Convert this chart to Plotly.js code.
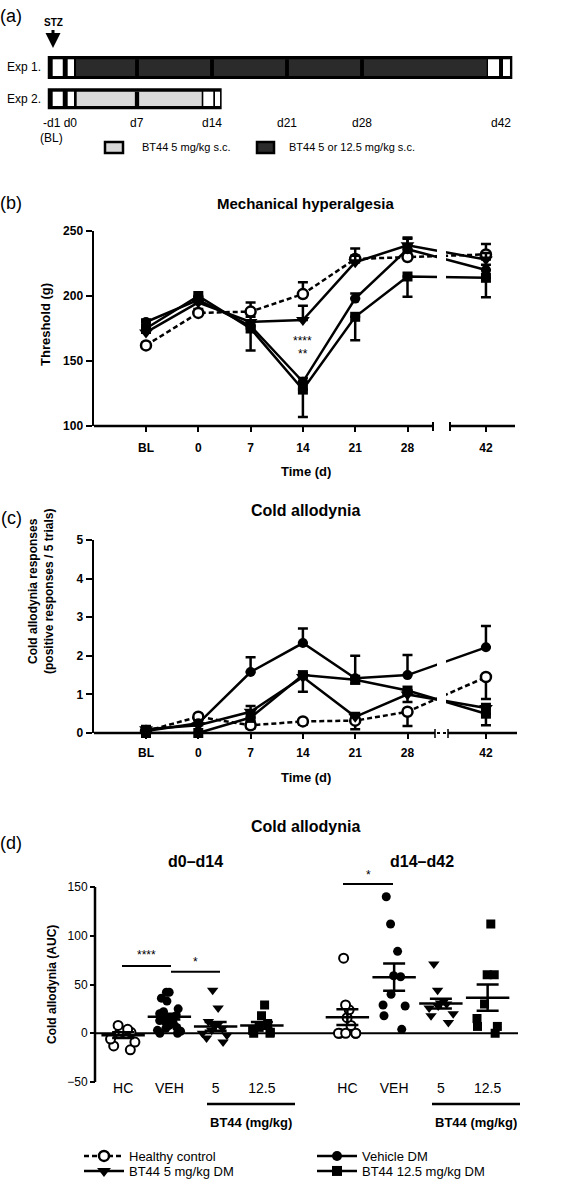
<!DOCTYPE html>
<html><head><meta charset="utf-8">
<script src="https://cdn.plot.ly/plotly-3.0.1.min.js"></script>
<style>html,body{margin:0;padding:0;background:#fff}</style>
</head><body><div id="chart" style="width:566px;height:1199px"></div>
<script>
const W=566,H=1199;
const FONT='Liberation Sans, Arial, Helvetica, sans-serif';

// ---- panel (a) schematic (days) ----
const weekDays=[7,14,21,28];
const exp1WhiteCells=[[-0.87,0.07],[0.53,1.12],[39.76,40.79],[41.16,41.81]];
const exp1DoseCells=[[1.31,39.64]];
const exp2WhiteCells=[[-0.87,0.07],[0.53,1.12],[13.19,14.12],[14.28,14.75]];
const exp2DoseCells=[[1.37,13.04]];
const exp2Weeks=[7];
const schematicLabels=['-d1 d0','d7','d14','d21','d28','d42'];
const schematicLabelDays=[-0.2,7,14,21,28,41];

// ---- panels (b),(c) ----
const timeLabels=['BL','0','7','14','21','28','42'];
const seriesNames=['Healthy control','Vehicle DM','BT44 5 mg/kg DM','BT44 12.5 mg/kg DM'];

// (b) mechanical threshold (g), one-sided SEM
const mechHC=[162,187,188,201.5,228.5,230,232];
const mechHCErr=[2,3,7,9,8,4,8];
const mechVEH=[180,197,177,134,198,236,220];
const mechVEHErr=[2,2,4,3,4,8,4];
const mechBT5=[172,195,180,181.5,226,239,228];
const mechBT5Err=[2,3,4,11,5,6,5];
const mechBT125=[175,200,175,128,184,215,214];
const mechBT125Err=[3,3,17,21,18,15.5,15];

// (c) cold allodynia responses
const coldHC=[0.05,0.42,0.2,0.3,0.32,0.55,1.45];
const coldHCErr=[0.05,0.08,0.08,0.08,0.22,0.37,0.57];
const coldVEH=[0.05,0.25,1.58,2.33,1.42,1.5,2.22];
const coldVEHErr=[0.08,0.08,0.38,0.38,0.58,0.52,0.55];
const coldBT5=[0.1,0.2,0.55,1.45,0.42,1.0,0.65];
const coldBT5Err=[0.08,0.05,0.15,0.1,0.1,0.1,0.1];
const coldBT125=[0.0,0.0,0.4,1.5,1.38,1.1,0.5];
const coldBT125Err=[0,0,0.1,0.43,0.1,0.3,0.3];

// (d) AUC
const aucCats=['HC','VEH','5','12.5'];
const aucEarlyHC=[8,4,2,1,0,-6,-9,-13,-17];
const aucEarlyVEH=[42,42,36,33,25,22,20,18,17,15,13,12,10,8,6,5,3,2,0,0];
const aucEarlyBT5=[44,26,12,10,10,8,5,3,0,-2,-5,-9];
const aucEarlyBT125=[29,18,10,6,3,1,0,0];
const aucLateHC=[77,29,24,16,8,0,0,0,0,0];
const aucLateVEH=[140,112,84,59,58,40,29,28,18,4];
const aucLateBT5=[71,44,33,31,30,28,26,20,18,11];
const aucLateBT125=[112,60,60,30,15,7,7,0];
const aucEarlyMean=[-2,17,7,8];
const aucEarlySem=[3,3,4.5,3.5];
const aucLateMean=[16.5,57.5,30.5,36.5];
const aucLateSem=[8,14,5,13.5];

// ---- helpers ----
const px=v=>v/W, py=v=>1-v/H;
const timePos=timeLabels.map((t,i)=>i<6?i:6.5);
const styles=[
 {symbol:'circle',size:10,color:'white',lw:2.5,dash:'5px,3px',dsize:9},
 {symbol:'circle',size:10,color:'black',lw:0,dash:'solid',dsize:9},
 {symbol:'triangle-down',size:12,color:'black',lw:0,dash:'solid',dsize:10},
 {symbol:'square',size:10,color:'black',lw:0,dash:'solid',dsize:9}
];
const legendOf=['legend','legend','legend2','legend2'];
const zeros=n=>new Array(n).fill(0);
function lineTrace(xa,ya,y,err,up,k,legend){
 const s=styles[k];
 return {type:'scatter',mode:'lines+markers',xaxis:xa,yaxis:ya,x:timePos,y:y,name:seriesNames[k],
  showlegend:legend,legend:legendOf[k],cliponaxis:false,hoverinfo:'skip',
  line:{color:'black',width:2.5,dash:s.dash},
  marker:{symbol:s.symbol,size:s.size,color:s.color,line:{color:'black',width:s.lw}},
  error_y:{type:'data',symmetric:false,array:up?err:zeros(err.length),arrayminus:up?zeros(err.length):err,
   color:'black',thickness:2.5,width:5}};
}
function stripTrace(xa,cat,vals,k){
 const s=styles[k];
 return {type:'box',xaxis:xa,yaxis:'y3',x:vals.map(()=>cat),y:vals,boxpoints:'all',jitter:0.85,pointpos:0,width:0.8,
  fillcolor:'rgba(0,0,0,0)',line:{color:'rgba(0,0,0,0)',width:0},whiskerwidth:0,
  marker:{symbol:s.symbol,size:s.dsize,color:s.color,line:{color:'black',width:s.lw?2:0}},
  showlegend:false,hoverinfo:'skip'};
}
function meanTrace(xa,means,sems){
 return {type:'scatter',mode:'markers',xaxis:xa,yaxis:'y3',x:aucCats,y:means,showlegend:false,hoverinfo:'skip',
  marker:{symbol:'line-ew',size:31,color:'black',line:{color:'black',width:2.5}},
  error_y:{type:'data',array:sems,symmetric:true,color:'black',thickness:2.5,width:11}};
}

const traces=[];
traces.push({type:'scatter',x:[0],y:[0],xaxis:'x5',yaxis:'y5',mode:'markers',marker:{opacity:0},showlegend:false,hoverinfo:'skip'});
traces.push(lineTrace('x','y',mechHC,mechHCErr,true,0,true));
traces.push(lineTrace('x','y',mechVEH,mechVEHErr,true,1,true));
traces.push(lineTrace('x','y',mechBT5,mechBT5Err,true,2,true));
traces.push(lineTrace('x','y',mechBT125,mechBT125Err,false,3,true));
traces.push(lineTrace('x2','y2',coldHC,coldHCErr,false,0,false));
traces.push(lineTrace('x2','y2',coldVEH,coldVEHErr,true,1,false));
traces.push(lineTrace('x2','y2',coldBT5,coldBT5Err,true,2,false));
traces.push(lineTrace('x2','y2',coldBT125,coldBT125Err,false,3,false));
[[aucEarlyHC,0],[aucEarlyVEH,1],[aucEarlyBT5,2],[aucEarlyBT125,3]].forEach(([v,k])=>traces.push(stripTrace('x3',aucCats[k],v,k)));
[[aucLateHC,0],[aucLateVEH,1],[aucLateBT5,2],[aucLateBT125,3]].forEach(([v,k])=>traces.push(stripTrace('x4',aucCats[k],v,k)));
traces.push(meanTrace('x3',aucEarlyMean,aucEarlySem));
traces.push(meanTrace('x4',aucLateMean,aucLateSem));

// ---- shapes ----
const shapes=[];
const DARK='#2b2b2b', LIGHT='#d9d9d9';
function rectDays(x0,x1,y0,y1,fill){shapes.push({type:'rect',xref:'x5',yref:'paper',x0:x0,x1:x1,y0:py(y1),y1:py(y0),fillcolor:fill,line:{width:0},layer:'above'});}
function lineP(x0,y0,x1,y1,w,dash){shapes.push({type:'line',xref:'paper',yref:'paper',x0:px(x0),y0:py(y0),x1:px(x1),y1:py(y1),line:{color:'black',width:w||2.5,dash:dash||'solid'},layer:'above'});}
function rectP(x0,y0,x1,y1,fill,lw){shapes.push({type:'rect',xref:'paper',yref:'paper',x0:px(x0),y0:py(y1),x1:px(x1),y1:py(y0),fillcolor:fill,line:{color:'black',width:lw||0},layer:'above'});}
// Exp1
rectDays(-1.33,42.03,56,79,'black');
exp1DoseCells.forEach(c=>rectDays(c[0],c[1],59.3,76,DARK));
weekDays.forEach(d=>rectDays(d-0.18,d+0.18,59.3,76,'black'));
exp1WhiteCells.forEach(c=>rectDays(c[0],c[1],59.3,76,'white'));
// Exp2
rectDays(-1.33,14.9,88.3,109.3,'black');
exp2DoseCells.forEach(c=>rectDays(c[0],c[1],91.7,106,LIGHT));
exp2Weeks.forEach(d=>rectDays(d-0.2,d+0.2,91.7,106,'black'));
exp2WhiteCells.forEach(c=>rectDays(c[0],c[1],91.7,106,'white'));
// schematic legend boxes
rectP(105,142,123,153,LIGHT,2.5);
rectP(257,142,274,153,DARK,2.5);

// (b) axis break
rectP(437,225,446,421,'white',0);
lineP(94,426,433,426,2.5); lineP(433,422,433,431,2);
lineP(450,426,515,426,2.5); lineP(450,422,450,431,2);
// (c) axis break
rectP(437,535,446,728,'white',0);
lineP(94,733,435,733,2.5); lineP(435,729,435,738,1.5);
lineP(437,733,447,733,2,'dot');
lineP(448,729,448,738,1.5); lineP(448,733,517,733,2.5);
// (d)
shapes.push({type:'line',xref:'paper',yref:'y3',x0:px(95),x1:px(95),y0:-50,y1:150,line:{color:'black',width:2.5},layer:'above'});
shapes.push({type:'line',xref:'paper',yref:'y3',x0:px(95),x1:px(518),y0:0,y1:0,line:{color:'black',width:2},layer:'below'});
shapes.push({type:'line',xref:'paper',yref:'y3',x0:px(122),x1:px(171),y0:69,y1:69,line:{color:'black',width:2}});
shapes.push({type:'line',xref:'paper',yref:'y3',x0:px(171),x1:px(220),y0:63,y1:63,line:{color:'black',width:2}});
shapes.push({type:'line',xref:'paper',yref:'y3',x0:px(343),x1:px(393),y0:153,y1:153,line:{color:'black',width:2}});
lineP(207,1104,295,1104,2.5);
lineP(432,1104,520,1104,2.5);

// ---- annotations ----
const ann=[];
function txt(x,y,t,o){ann.push(Object.assign({xref:'paper',yref:'paper',x:px(x),y:py(y),text:t,showarrow:false,xanchor:'center',yanchor:'middle',font:{family:FONT,size:12,color:'black'}},o||{}));}
txt(11,16,'(a)',{font:{family:FONT,size:18,color:'black'}});
ann.push({xref:'paper',yref:'paper',x:px(53),y:py(48),ax:0,ay:-26,text:'<b>STZ</b>',showarrow:true,arrowhead:2,arrowsize:1,arrowwidth:3,arrowcolor:'black',font:{family:FONT,size:10,color:'black'},standoff:0,startstandoff:1});
txt(24,67,'Exp 1.'); txt(24,99,'Exp 2.');
schematicLabels.forEach((l,i)=>ann.push({xref:'x5',yref:'paper',x:schematicLabelDays[i],y:py(123),yanchor:'middle',xanchor:'center',text:l,showarrow:false,font:{family:FONT,size:12,color:'black'}}));
txt(51,138,'(BL)');
txt(140,147,'BT44 5 mg/kg s.c.',{xanchor:'left',font:{family:FONT,size:11,color:'black'}});
txt(287,147,'BT44 5 or 12.5 mg/kg s.c.',{xanchor:'left',font:{family:FONT,size:11,color:'black'}});

txt(11,203,'(b)',{font:{family:FONT,size:18,color:'black'}});
txt(305,203,'<b>Mechanical hyperalgesia</b>',{font:{family:FONT,size:15,color:'black'}});
txt(45,325,'<b>Threshold (g)</b>',{textangle:-90,font:{family:FONT,size:13,color:'black'}});
txt(306,471,'<b>Time (d)</b>',{font:{family:FONT,size:13,color:'black'}});
ann.push({xref:'x',yref:'y',x:timePos[3],y:165,text:'****',showarrow:false,font:{family:FONT,size:12,color:'black'}});
ann.push({xref:'x',yref:'y',x:timePos[3],y:155,text:'**',showarrow:false,font:{family:FONT,size:12,color:'black'}});

txt(11,518,'(c)',{font:{family:FONT,size:18,color:'black'}});
txt(305,510,'<b>Cold allodynia</b>',{font:{family:FONT,size:16,color:'black'}});
txt(41,592,'<b>Cold allodynia responses<br>(positive responses / 5 trials)</b>',{textangle:-90,font:{family:FONT,size:12,color:'black'}});
txt(306,777,'<b>Time (d)</b>',{font:{family:FONT,size:13,color:'black'}});

txt(11,843,'(d)',{font:{family:FONT,size:18,color:'black'}});
txt(305,826,'<b>Cold allodynia</b>',{font:{family:FONT,size:16,color:'black'}});
txt(195,861,'<b>d0–d14</b>',{font:{family:FONT,size:16,color:'black'}});
txt(422,861,'<b>d14–d42</b>',{font:{family:FONT,size:16,color:'black'}});
txt(52,985,'<b>Cold allodynia (AUC)</b>',{textangle:-90,font:{family:FONT,size:12,color:'black'}});
txt(146,955,'****',{font:{family:FONT,size:12,color:'black'}});
txt(195,962,'*',{font:{family:FONT,size:12,color:'black'}});
txt(368,875,'*',{font:{family:FONT,size:12,color:'black'}});
txt(251,1122,'<b>BT44 (mg/kg)</b>',{font:{family:FONT,size:13,color:'black'}});
txt(476,1122,'<b>BT44 (mg/kg)</b>',{font:{family:FONT,size:13,color:'black'}});

// ---- axes ----
const boldTick={family:FONT,size:12,color:'black',weight:'bold'};
const xr=[(94-146)/52.3,(515-146)/52.3];
function timeX(anchor,so){return {domain:[px(94),px(515)],anchor:anchor,range:xr,tickvals:timePos,ticktext:timeLabels,
 ticks:'outside',ticklen:5,tickwidth:2,tickcolor:'black',showline:false,showgrid:false,zeroline:false,tickfont:boldTick,ticklabelstandoff:so};}
function catX(d0,d1){return {domain:[px(d0),px(d1)],anchor:'free',position:py(1078),type:'category',categoryorder:'array',categoryarray:aucCats,
 range:[-0.5,3.5],ticks:'',showline:false,showgrid:false,zeroline:false,tickfont:{family:FONT,size:14,color:'black'}};}
function legendAt(top){return {orientation:'h',x:px(79),xanchor:'left',y:py(top),yanchor:'top',entrywidth:178,entrywidthmode:'pixels',
  font:{family:FONT,size:13,color:'black'},itemwidth:40,tracegroupgap:0,bgcolor:'rgba(0,0,0,0)',traceorder:'normal'};}
const layout={
 width:W,height:H,margin:{l:0,r:0,t:0,b:0},paper_bgcolor:'white',plot_bgcolor:'rgba(0,0,0,0)',
 font:{family:FONT,color:'black'},
 showlegend:true,
 legend:legendAt(1141),
 legend2:legendAt(1156),
 xaxis:timeX('y',6),
 yaxis:{domain:[py(426),py(231)],anchor:'x',range:[100,250],tickvals:[100,150,200,250],ticks:'outside',ticklen:6,tickwidth:2,tickcolor:'black',
  showline:true,linewidth:2.5,linecolor:'black',showgrid:false,zeroline:false,tickfont:boldTick},
 xaxis2:timeX('y2',4),
 yaxis2:{domain:[py(733),py(540)],anchor:'x2',range:[0,5],tickvals:[0,1,2,3,4,5],ticks:'outside',ticklen:6,tickwidth:2,tickcolor:'black',
  showline:true,linewidth:2.5,linecolor:'black',showgrid:false,zeroline:false,tickfont:boldTick},
 xaxis3:catX(100,285),
 xaxis4:catX(324,511),
 yaxis3:{domain:[py(1082),py(877.25)],anchor:'free',position:px(95),range:[-50,160],tickvals:[-50,0,50,100,150],ticks:'outside',ticklen:5,tickwidth:2,tickcolor:'black',
  showline:false,showgrid:false,zeroline:false,tickfont:{family:FONT,size:12,color:'black'}},
 xaxis5:{domain:[0,1],anchor:'y5',range:[-62*7/75,(W-62)*7/75],visible:false},
 yaxis5:{domain:[py(160),1],anchor:'x5',range:[0,1],visible:false},
 boxmode:'overlay',
 shapes:shapes,annotations:ann
};
Plotly.newPlot('chart',traces,layout,{staticPlot:true,displayModeBar:false});
</script></body></html>
